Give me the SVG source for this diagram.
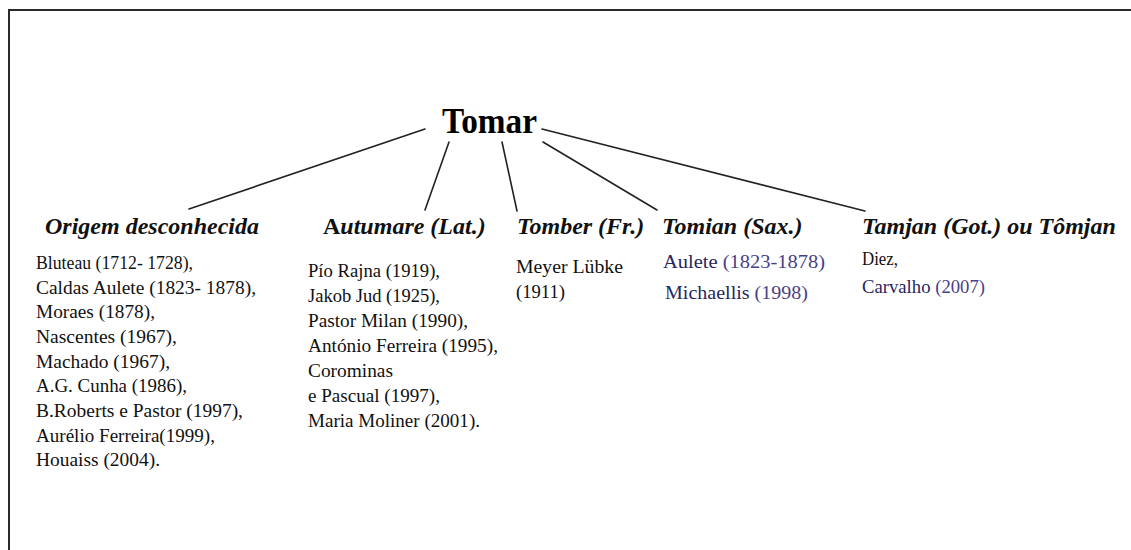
<svg xmlns="http://www.w3.org/2000/svg" width="1131" height="550" viewBox="0 0 1131 550">
<style>
.title{font-family:"Liberation Serif","Times New Roman",serif;font-weight:bold;font-size:35px;fill:#000}
.head{font-family:"Liberation Serif","Times New Roman",serif;font-weight:bold;font-style:italic;font-size:24px;fill:#111}
.body{font-family:"Liberation Serif","Times New Roman",serif;font-size:18.5px;fill:#111}
.navy{fill:#262660}
.purp{fill:#4a3f86}
.conn line{stroke:#222;stroke-width:1.6;stroke-linecap:round}
</style>
<rect width="1131" height="550" fill="#fff"/>
<path d="M9,560 V10 H1140" fill="none" stroke="#2a2a2a" stroke-width="2"/>
<g id="tomar"><text class="title" x="442" y="133" textLength="95" lengthAdjust="spacingAndGlyphs">Tomar</text></g>
<g class="conn" id="connectors">
<line x1="425" y1="129" x2="189" y2="209"/>
<line x1="449" y1="142" x2="425" y2="210"/>
<line x1="502" y1="142" x2="517" y2="211"/>
<line x1="543" y1="142" x2="657" y2="210"/>
<line x1="542" y1="129" x2="865" y2="211"/>
</g>
<g id="origem">
<text class="head" x="45" y="234">Origem desconhecida</text>
<text class="body" x="36" y="269" textLength="157" lengthAdjust="spacingAndGlyphs">Bluteau (1712- 1728),</text>
<text class="body" x="36" y="293.5" textLength="220" lengthAdjust="spacingAndGlyphs">Caldas Aulete (1823- 1878),</text>
<text class="body" x="36" y="318" textLength="119" lengthAdjust="spacingAndGlyphs">Moraes (1878),</text>
<text class="body" x="36" y="343" textLength="141" lengthAdjust="spacingAndGlyphs">Nascentes (1967),</text>
<text class="body" x="36" y="367.5" textLength="134" lengthAdjust="spacingAndGlyphs">Machado (1967),</text>
<text class="body" x="36" y="392" textLength="151" lengthAdjust="spacingAndGlyphs">A.G. Cunha (1986),</text>
<text class="body" x="36" y="417" textLength="207" lengthAdjust="spacingAndGlyphs">B.Roberts e Pastor (1997),</text>
<text class="body" x="36" y="441.5" textLength="179" lengthAdjust="spacingAndGlyphs">Aurélio Ferreira(1999),</text>
<text class="body" x="36" y="466" textLength="124" lengthAdjust="spacingAndGlyphs">Houaiss (2004).</text>
</g>
<g id="autumare">
<text class="head" x="323" y="234"><tspan font-style="normal">A</tspan>utumare (Lat.)</text>
<text class="body" x="308" y="277" textLength="132" lengthAdjust="spacingAndGlyphs">Pío Rajna (1919),</text>
<text class="body" x="308" y="302" textLength="132" lengthAdjust="spacingAndGlyphs">Jakob Jud (1925),</text>
<text class="body" x="308" y="327" textLength="160" lengthAdjust="spacingAndGlyphs">Pastor Milan (1990),</text>
<text class="body" x="308" y="352" textLength="190" lengthAdjust="spacingAndGlyphs">António Ferreira (1995),</text>
<text class="body" x="308" y="377" textLength="85" lengthAdjust="spacingAndGlyphs">Corominas</text>
<text class="body" x="308" y="402" textLength="132" lengthAdjust="spacingAndGlyphs">e Pascual (1997),</text>
<text class="body" x="308" y="427" textLength="172" lengthAdjust="spacingAndGlyphs">Maria Moliner (2001).</text>
</g>
<g id="tomber">
<text class="head" x="517" y="234">Tomber (Fr.)</text>
<text class="body" x="516" y="273" textLength="107" lengthAdjust="spacingAndGlyphs">Meyer Lübke</text>
<text class="body" x="516" y="298" textLength="49" lengthAdjust="spacingAndGlyphs">(1911)</text>
</g>
<g id="tomian">
<text class="head" x="662" y="234">Tomian (Sax.)</text>
<text class="body" x="663" y="268" textLength="162" lengthAdjust="spacingAndGlyphs"><tspan class="navy">Aulete </tspan><tspan class="purp">(1823-1878)</tspan></text>
<text class="body" x="665" y="299" textLength="143" lengthAdjust="spacingAndGlyphs"><tspan class="navy">Michaellis </tspan><tspan class="purp">(1998)</tspan></text>
</g>
<g id="tamjan">
<text class="head" x="862" y="234">Tamjan (Got.) ou Tômjan</text>
<text class="body" x="862" y="265" textLength="36" lengthAdjust="spacingAndGlyphs">Diez,</text>
<text class="body" x="862" y="293" textLength="123" lengthAdjust="spacingAndGlyphs"><tspan class="navy">Carvalho </tspan><tspan class="purp">(2007)</tspan></text>
</g>
</svg>
